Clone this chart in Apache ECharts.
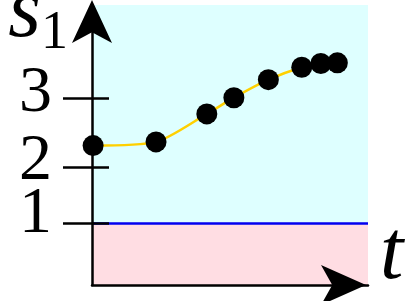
<!DOCTYPE html>
<html>
<head>
<meta charset="utf-8">
<script src="https://cdn.jsdelivr.net/npm/echarts@6/dist/echarts.min.js"></script>
<style>
html,body{margin:0;padding:0;background:#fff;}
#chart{width:415px;height:301px;}
</style>
</head>
<body>
<div id="chart"></div>
<script>
// ---- data ----
const tValues = [0.04, 2.32, 4.16, 5.14, 6.39, 7.60, 8.29, 8.89];
const s1Values = [2.24, 2.30, 2.75, 3.01, 3.30, 3.50, 3.56, 3.57];
const yTickValues = [1, 1.9, 3];
const yLabelValues = [1.13, 1.98, 3.08];
const yLabelTexts = ['1', '2', '3'];
const threshold = 1;
const yMin = 0, yMax = 4.5;
const xMin = 0, xMax = 10;

const points = tValues.map((t, i) => [t, s1Values[i]]);

function nearestLabel(v) {
  let best = 0;
  for (let i = 1; i < yLabelValues.length; i++) {
    if (Math.abs(yLabelValues[i] - v) < Math.abs(yLabelValues[best] - v)) best = i;
  }
  return yLabelTexts[best];
}
// split labels over two coincident axes so none is auto-hidden
const labelsA = yLabelValues.filter((v, i) => i % 2 === 0);
const labelsB = yLabelValues.filter((v, i) => i % 2 === 1);

const chart = echarts.init(document.getElementById('chart'), null, {renderer: 'canvas'});
const serif = 'Liberation Serif';
const labelStyle = {show: true, margin: 40, hideOverlap: false,
  formatter: v => nearestLabel(v), fontFamily: serif, fontSize: 66, color: '#000'};

const option = {
  animation: false,
  backgroundColor: '#ffffff',
  grid: {left: 92, right: 47, top: 5, bottom: 16, containLabel: false, outerBoundsMode: 'none'},
  xAxis: {
    type: 'value', min: xMin, max: xMax, z: 10,
    splitLine: {show: false}, axisTick: {show: false}, axisLabel: {show: false},
    axisLine: {show: true, onZero: false, symbol: ['none', 'arrow'], symbolSize: [30, 45], symbolOffset: [0, -2],
      lineStyle: {color: '#000', width: 2.5}},
    name: 't', nameLocation: 'end', nameGap: 12,
    nameTextStyle: {fontFamily: serif, fontStyle: 'italic', fontSize: 84, color: '#000', align: 'left', verticalAlign: 'bottom', lineHeight: 58}
  },
  yAxis: [{
    type: 'value', min: yMin, max: yMax, z: 10,
    splitLine: {show: false},
    axisLine: {show: true, onZero: false, symbol: ['none', 'arrow'], symbolSize: [30, 43], symbolOffset: [0, 5],
      lineStyle: {color: '#000', width: 2.5}},
    axisTick: {show: true, inside: false, length: 29, customValues: yTickValues, lineStyle: {color: '#000', width: 2.5}},
    axisLabel: Object.assign({customValues: labelsA}, labelStyle),
    name: '{s|s}{sub|1}', nameLocation: 'end', nameGap: -50,
    nameTextStyle: {align: 'right', verticalAlign: 'bottom', padding: [0, 24, 0, 0], lineHeight: 80,
      rich: {
        s: {fontFamily: serif, fontStyle: 'italic', fontSize: 84, lineHeight: 80, height: 80, verticalAlign: 'top', color: '#000'},
        sub: {fontFamily: serif, fontSize: 54, lineHeight: 40, height: 40, verticalAlign: 'bottom', color: '#000'}
      }}
  }, {
    type: 'value', min: yMin, max: yMax, z: 10, position: 'left', offset: 0,
    splitLine: {show: false}, axisLine: {show: false},
    axisLabel: Object.assign({customValues: labelsB}, labelStyle),
    axisTick: {show: true, inside: true, length: 17, customValues: yTickValues, lineStyle: {color: '#000', width: 2.5}}
  }],
  series: [{
    type: 'line', data: [], z: 1, silent: true,
    markArea: {silent: true, data: [
      [{yAxis: threshold, itemStyle: {color: '#DEFFFF'}}, {yAxis: yMax}],
      [{yAxis: yMin, itemStyle: {color: '#FFDDE3'}}, {yAxis: threshold}]
    ]},
    markLine: {silent: true, symbol: 'none', label: {show: false},
      lineStyle: {color: '#0000F0', width: 2.5, type: 'solid'},
      data: [{yAxis: threshold}]}
  }, {
    type: 'line', data: points, z: 2, smooth: 0.25, showSymbol: false,
    lineStyle: {color: '#FFD000', width: 2.5}
  }, {
    type: 'scatter', data: points, z: 3, symbolSize: 21,
    itemStyle: {color: '#000', opacity: 1}
  }]
};
chart.setOption(option);
</script>
</body>
</html>
